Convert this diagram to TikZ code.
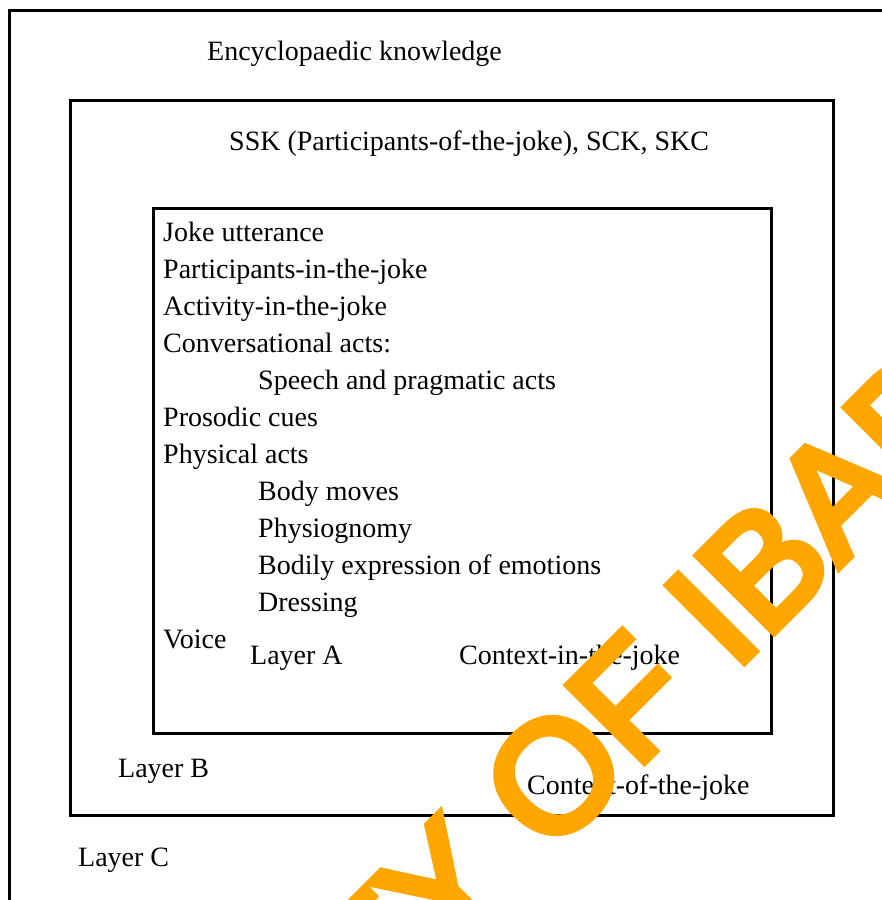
\documentclass[tikz,border=0pt]{standalone}
\usepackage{fontspec}
\setmainfont{Liberation Serif}
\font\wmfont="Liberation Sans:embolden=5" at 157pt
\definecolor{wmorange}{RGB}{255,167,0}
\begin{document}
\begin{tikzpicture}[x=1pt,y=-1pt,
  lbl/.style={anchor=base west,inner sep=0pt,font=\fontsize{28}{33}\selectfont},
  frame/.style={draw=black,line width=3pt}]
\useasboundingbox (0,0) rectangle (882,900);
\clip (0,0) rectangle (882,900);
% boxes
\draw[frame] (9,10) rectangle (930,950);
\draw[frame] (70,100) rectangle (833,815);
\draw[frame] (153,208) rectangle (771,733);
% layer C
\node[lbl] (enc) at (207,60) {Encyclopaedic knowledge};
\node[lbl] (layc) at (78,866) {Layer C};
% layer B
\node[lbl] (ssk) at (229,150) {SSK (Participants-of-the-joke), SCK, SKC};
\node[lbl] (layb) at (118,777) {Layer B};
\node[lbl] (ctxof) at (527,794) {Context-of-the-joke};
% layer A
\node[lbl] (l1) at (163,241) {Joke utterance};
\node[lbl] (l2) at (163,278) {Participants-in-the-joke};
\node[lbl] (l3) at (163,315) {Activity-in-the-joke};
\node[lbl] (l4) at (163,352) {Conversational acts:};
\node[lbl] (l5) at (258,389) {Speech and pragmatic acts};
\node[lbl] (l6) at (163,426) {Prosodic cues};
\node[lbl] (l7) at (163,463) {Physical acts};
\node[lbl] (l8) at (258,500) {Body moves};
\node[lbl] (l9) at (258,537) {Physiognomy};
\node[lbl] (l10) at (258,574) {Bodily expression of emotions};
\node[lbl] (l11) at (258,611) {Dressing};
\node[lbl] (l12) at (163,648) {Voice};
\node[lbl] (laya) at (250,664) {Layer A};
\node[lbl] (ctxin) at (459,664) {Context-in-the-joke};
% watermark
\node[rotate=45,anchor=base west,inner sep=0pt,text=wmorange,
      font=\wmfont] (wm) at (549,857)
      {\llap{UNIVERSITY }OF IBADAN};
\end{tikzpicture}
\end{document}
